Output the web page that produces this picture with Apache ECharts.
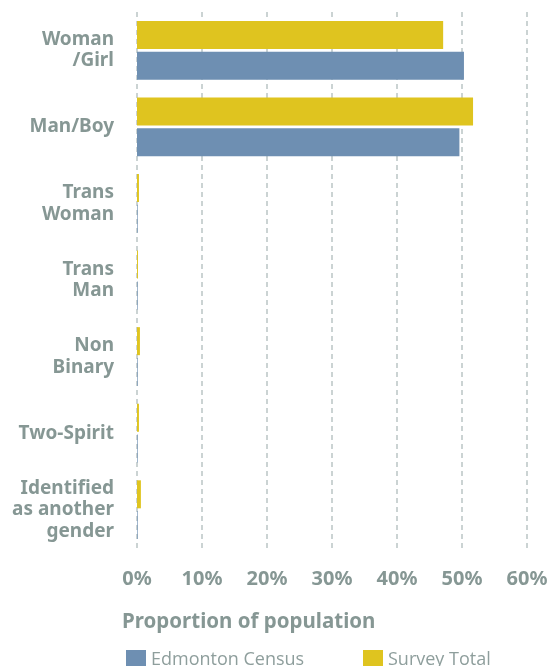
<!DOCTYPE html>
<html>
<head>
<meta charset="utf-8">
<script src="https://cdn.jsdelivr.net/npm/echarts@6/dist/echarts.min.js"></script>
<style>
  html, body { margin: 0; padding: 0; background: #fff; }
  #chart { width: 555px; height: 666px; }
</style>
</head>
<body>
<div id="chart"></div>
<script>
// categories, top to bottom
var categories = ["Woman\n/Girl", "Man/Boy", "Trans\nWoman", "Trans\nMan", "Non\nBinary", "Two-Spirit", "Identified\nas another\ngender"];
// percent of population
var surveyTotal = [47.1, 51.7, 0.3, 0.15, 0.45, 0.3, 0.6];
var edmontonCensus = [50.3, 49.6, 0.1, 0.1, 0.1, 0.1, 0.1];
var xTicks = [0, 10, 20, 30, 40, 50, 60];

var textColor = "#869794";
var chart = echarts.init(document.getElementById("chart"));

function legendItem(l) {
    l.itemWidth = 20;
    l.itemHeight = 20;
    l.icon = "rect";
    l.itemGap = 8;
    l.textStyle = { color: "#8e9e9c", fontFamily: "Open Sans", fontSize: 18 };
    return l;
}

chart.setOption({
    animation: false,
    title: {
        text: "Proportion of population",
        left: 117,
        top: 607,
        textStyle: { color: textColor, fontFamily: "Noto Sans", fontWeight: "bold", fontSize: 20.5 }
    },
    legend: [
        legendItem({ data: ["Edmonton Census"], left: 121, top: 645 }),
        legendItem({ data: ["Survey Total"], left: 358, top: 645 })
    ],
    grid: { left: 137, right: 28, top: 12, bottom: 118, containLabel: false },
    xAxis: {
        type: "value",
        min: xTicks[0],
        max: xTicks[xTicks.length - 1],
        interval: 10,
        axisLine: { show: false },
        axisTick: { show: false },
        splitLine: { show: true, lineStyle: { color: "#cbd3d3", type: [5, 4], width: 2 } },
        axisLabel: {
            margin: 21,
            formatter: "{value}%",
            color: textColor,
            fontFamily: "Noto Sans",
            fontWeight: "bold",
            fontSize: 20
        }
    },
    yAxis: {
        type: "category",
        inverse: true,
        data: categories,
        axisLine: { show: false },
        axisTick: { show: false },
        axisLabel: {
            margin: 23,
            color: textColor,
            fontFamily: "Noto Sans",
            fontWeight: "bold",
            fontSize: 19,
            lineHeight: 21.5
        }
    },
    series: [
        {
            name: "Survey Total",
            type: "bar",
            data: surveyTotal,
            barWidth: 28,
            barGap: "10%",
            itemStyle: { color: "#dfc41f" }
        },
        {
            name: "Edmonton Census",
            type: "bar",
            data: edmontonCensus,
            barWidth: 28,
            barGap: "10%",
            itemStyle: { color: "#6e8fb2" }
        }
    ]
});
</script>
</body>
</html>
